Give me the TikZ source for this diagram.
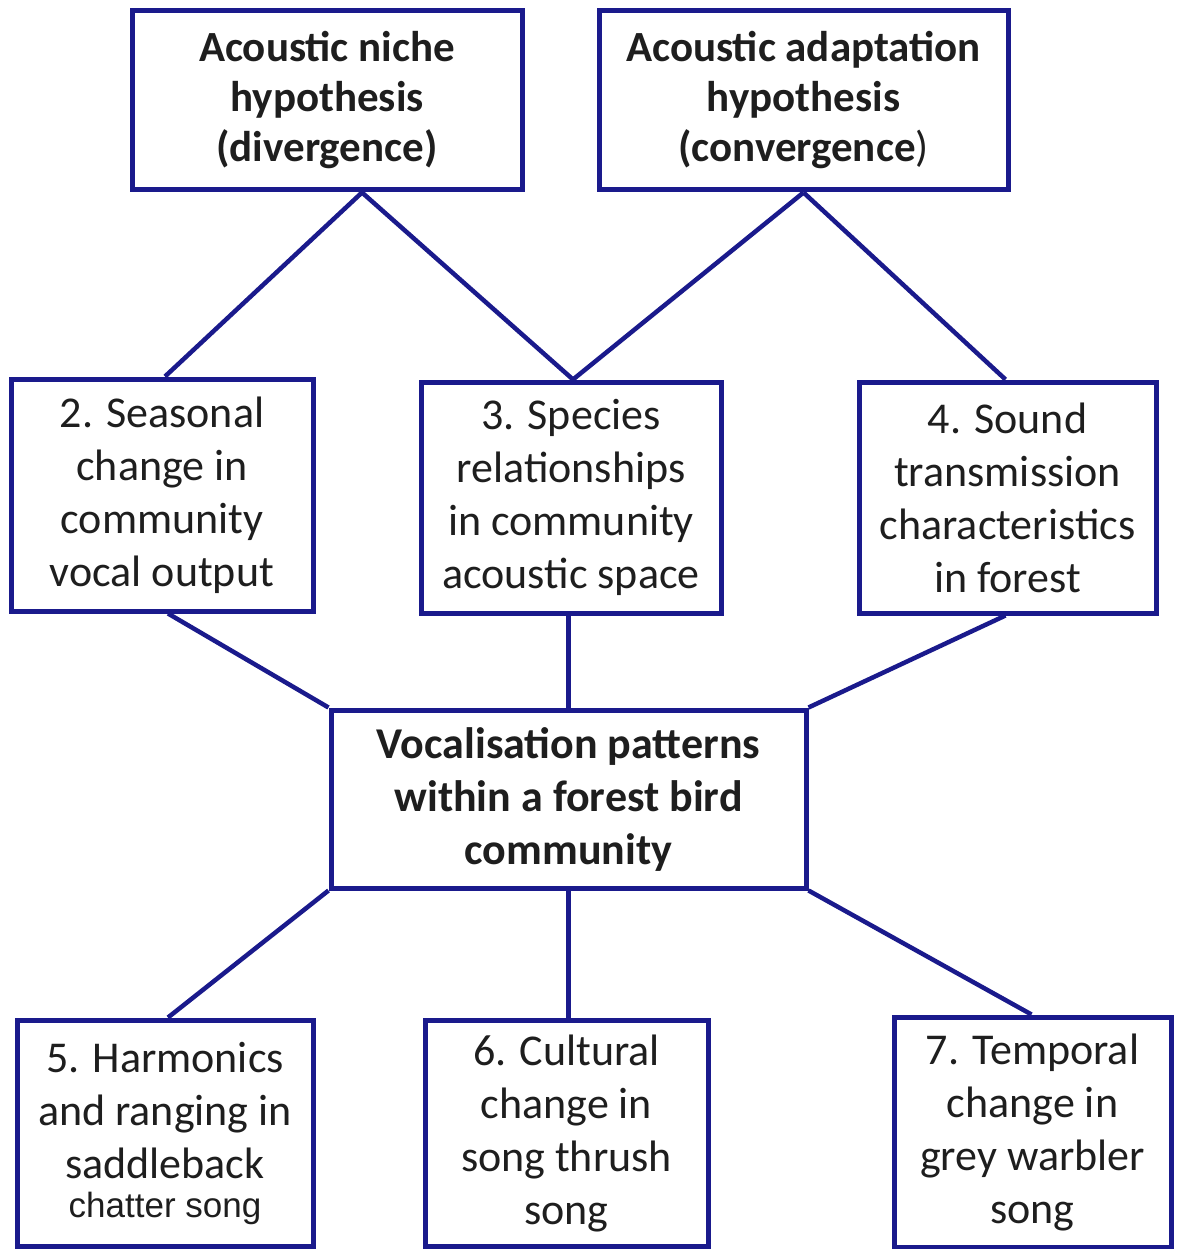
\documentclass[tikz,border=0pt]{standalone}
\usepackage{fontspec}
\setmainfont{Carlito}
\newfontfamily\chatterfont{Liberation Sans}
\definecolor{navyline}{RGB}{26,26,140}
\definecolor{txt}{RGB}{30,30,30}
\begin{document}
\begin{tikzpicture}[x=1pt,y=-1pt,
  box/.style={draw=navyline,line width=5pt,fill=white,inner sep=0pt,align=center,
    text=txt,font=\fontsize{44}{53}\selectfont},
  hypbox/.style={box,font=\fontsize{43}{50}\selectfont\bfseries},
  conn/.style={draw=navyline,line width=4.5pt}]
\useasboundingbox (0,0) rectangle (1176,1249);
\fill[white] (0,0) rectangle (1176,1249);

\node[hypbox,minimum width=390pt,minimum height=179pt] (A) at (327,100.5)
  {Acoustic niche\\hypothesis\\(divergence)};
\node[hypbox,minimum width=409pt,minimum height=179pt] (B) at (803.5,100.5)
  {Acoustic adaptation\\hypothesis\\(convergence{\mdseries)}};
\node[box,minimum width=302pt,minimum height=232pt] (n2) at (162,495)
  {2. Seasonal\\change in\\community\\vocal output};
\node[box,minimum width=300pt,minimum height=231pt] (n3) at (571,497.5)
  {3. Species\\relationships\\in community\\acoustic space};
\node[box,minimum width=297pt,minimum height=231pt] (n4) at (1007.5,497.5)
  {4. Sound\\transmission\\characteristics\\in forest};
\node[box,font=\fontsize{44}{53}\selectfont\bfseries,minimum width=475pt,minimum height=178pt] (C) at (568.5,799)
  {Vocalisation patterns\\within a forest bird\\community};
\node[box,minimum width=296pt,minimum height=226pt] (n5) at (165,1133)
  {5. Harmonics\\and ranging in\\saddleback\\[-14pt]{\chatterfont\fontsize{35}{40}\selectfont chatter song}};
\node[box,minimum width=283pt,minimum height=226pt] (n6) at (566.5,1133)
  {6. Cultural\\change in\\song thrush\\song};
\node[box,minimum width=277pt,minimum height=230pt] (n7) at (1032.5,1132)
  {7. Temporal\\change in\\grey warbler\\song};

\draw[conn] ([xshift=35pt]A.south) -- ([xshift=3pt]n2.north);
\draw[conn] ([xshift=35pt]A.south) -- ([xshift=2pt]n3.north);
\draw[conn] (B.south) -- ([xshift=2pt]n3.north);
\draw[conn] (B.south) -- ([xshift=-2pt]n4.north);
\draw[conn] ([xshift=6pt]n2.south) -- (C.north west);
\draw[conn] (n3.south -| C.north) -- (C.north);
\draw[conn] ([xshift=-2pt]n4.south) -- (C.north east);
\draw[conn] (C.south west) -- ([xshift=3pt]n5.north);
\draw[conn] (C.south) -- (n6.north -| C.south);
\draw[conn] (C.south east) -- ([xshift=-1pt]n7.north);
\end{tikzpicture}
\end{document}
